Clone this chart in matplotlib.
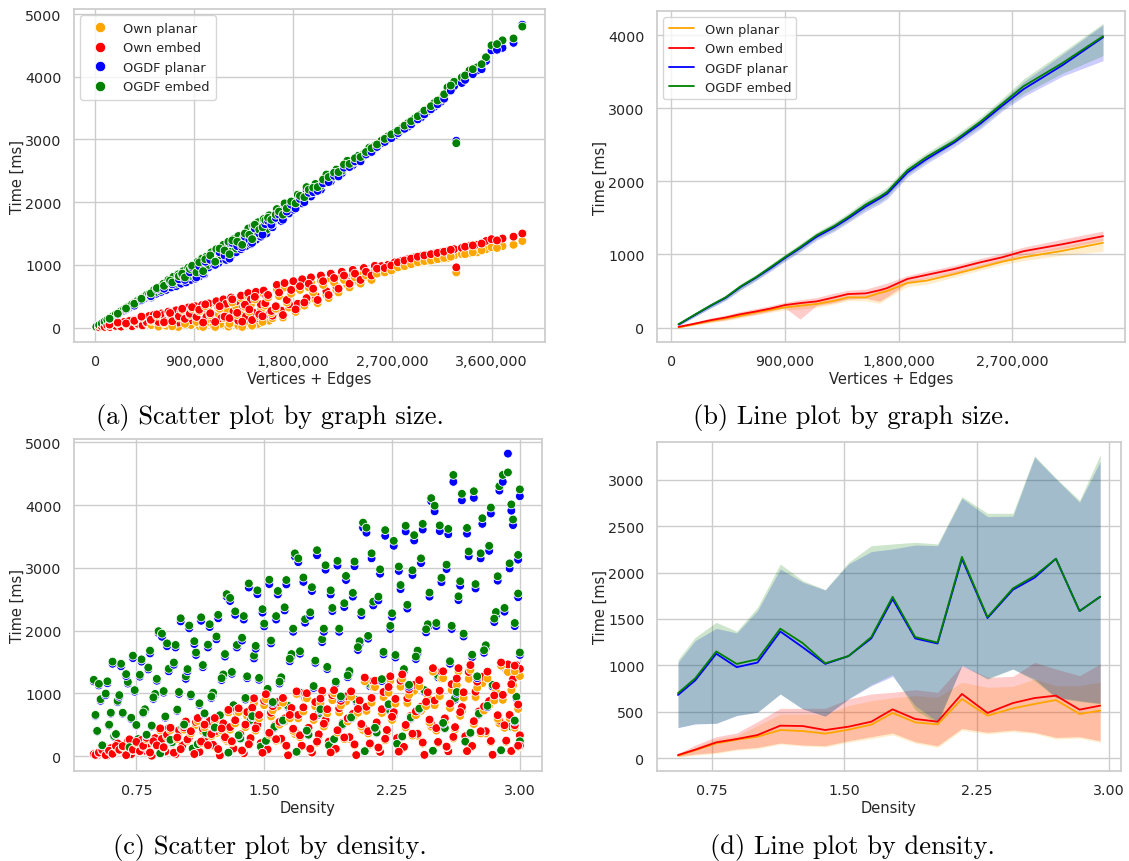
import matplotlib
matplotlib.use("Agg")
import matplotlib.pyplot as plt
from matplotlib.lines import Line2D
from matplotlib.ticker import FuncFormatter, MultipleLocator
import seaborn as sns

sns.set_theme(style="whitegrid")
plt.rcParams["font.family"] = ["DejaVu Sans"]
plt.rcParams["font.size"] = 10

names = ["Own planar", "Own embed", "OGDF planar", "OGDF embed"]
colors = ["orange", "red", "blue", "green"]

# ---- scatter by graph size (sizes in thousands, times in ms)
size_a_k = [10, 35, 60, 85, 110, 135, 160, 185, 210, 235, 260, 285, 310, 335, 360, 385, 410, 430, 450, 470,
            490, 510, 530, 555, 575, 600, 620, 645, 665, 690, 710, 735, 755, 780, 800, 825, 845, 870, 890, 910,
            930, 950, 970, 990, 1010,
            1030, 1055, 1075, 1100, 1120, 1145, 1165, 1190, 1210, 1235, 1255, 1280, 1300, 1325, 1345, 1370, 1390,
            1415, 1435, 1460, 1480, 1505, 1530, 1555, 1580,
            1610, 1650, 1690, 1720, 1760, 1800, 1840, 1880, 1920, 1960, 2000, 2050, 2100, 2140, 2190, 2240, 2290,
            2340, 2390, 2440, 2490, 2540,
            2600, 2660, 2720, 2780, 2840, 2900, 2960, 3020, 3080, 3140, 3200, 3260, 3280, 3330, 3400, 3470, 3550,
            3600, 3700, 3800, 3880,
            130, 205, 280, 355, 420, 505, 560, 625, 680, 700, 760, 790, 815, 860, 880, 920, 945, 980, 1000, 1045,
            1090, 1130, 1175, 1220, 1245, 1290, 1335, 1360, 1400, 1425, 1450, 1490, 1520, 1545, 1570, 1600, 1640,
            1670, 1705, 1740, 1780, 1820, 1860, 1900, 1940, 1980, 2020, 2070, 2120, 2170, 2210, 2260, 2310, 2360,
            2410, 2460, 2510, 2560, 2630, 2690, 2750, 2810, 2870, 2930, 2990, 3050, 3110, 3170, 3230, 3360, 3430,
            3510, 3650]
own_planar_a = [1, 4, 15, 8, 30, 5, 45, 20, 60, 10, 75, 35, 90, 15, 110, 50, 120, 25, 140, 70,
                170, 40, 180, 90, 15, 200, 120, 30, 230, 150, 60, 250, 10, 180, 270, 100, 290, 40, 220, 310,
                140, 20, 330, 250, 80,
                350, 120, 30, 380, 220, 60, 410, 290, 15, 440, 160, 330, 30, 470, 230, 90, 500, 370, 140, 520,
                60, 280, 540, 420, 110,
                150, 610, 230, 640, 320, 665, 330, 695, 420, 720, 450, 750, 520, 780, 600, 810, 680, 840, 730,
                870, 800, 900,
                890, 930, 940, 980, 1000, 1030, 1050, 1060, 1080, 1100, 1110, 1150, 880, 1170, 1190, 1200, 1250,
                1280, 1300, 1320, 1380,
                40, 70, 55, 95, 160, 110, 190, 70, 210, 20, 160, 280, 60, 200, 300, 90, 260, 10, 340, 200,
                10, 300, 150, 60, 400, 200, 10, 330, 250, 30, 450, 180, 90, 350, 480, 230, 300,
                500, 160, 400, 540, 250, 600, 350, 640, 560, 390, 680, 470, 720, 560, 760, 640, 800,
                700, 830, 760, 860, 880, 910, 960, 980, 1010, 1040, 1060, 1070, 1090, 1110, 1130, 1170, 1200,
                1230, 1270]
own_embed_a = [2, 6, 18, 12, 35, 10, 52, 28, 70, 16, 88, 45, 105, 22, 125, 62, 138, 35, 160, 85,
               185, 110, 200, 170, 90, 225, 200, 110, 255, 230, 140, 275, 80, 260, 295, 190, 320, 120, 300, 340,
               230, 100, 360, 320, 170,
               385, 210, 120, 420, 310, 150, 450, 380, 100, 480, 260, 420, 110, 510, 330, 180, 550, 450, 240, 570,
               150, 370, 590, 500, 210,
               190, 680, 270, 710, 370, 740, 380, 770, 470, 800, 510, 830, 580, 860, 660, 890, 740, 920, 790,
               950, 860, 985,
               980, 1000, 1040, 1060, 1090, 1120, 1140, 1160, 1180, 1200, 1220, 1250, 960, 1270, 1300, 1320, 1380,
               1410, 1420, 1450, 1500,
               48, 80, 66, 108, 175, 125, 210, 85, 232, 100, 180, 300, 140, 222, 325, 170, 285, 80, 370, 228,
               90, 340, 175, 150, 450, 235, 95, 365, 290, 120, 490, 210, 180, 390, 520, 265, 340,
               560, 200, 440, 600, 290, 660, 400, 700, 620, 440, 740, 520, 790, 620, 830, 700, 860,
               760, 890, 830, 940, 950, 990, 1040, 1070, 1100, 1130, 1150, 1170, 1190, 1210, 1240, 1290, 1310,
               1340, 1390]
ogdf_planar_a = [10, 38, 62, 92, 115, 148, 170, 200, 215, 255, 270, 310, 320, 365, 375, 420, 430, 470, 470, 515,
                 520, 480, 575, 540, 620, 570, 680, 600, 740, 640, 790, 660, 830, 700, 880, 720, 930, 760, 980, 780,
                 1030, 820, 1080, 850, 1110,
                 960, 1180, 1000, 1230, 1030, 1100, 1300, 1080, 1350, 1150, 1390, 1200, 1440, 1250, 1380, 1300,
                 1560, 1330, 1600, 1400, 1650, 1450, 1700, 1500, 1760,
                 1600, 1850, 1700, 1950, 1820, 1880, 2080, 1980, 2200, 2090, 2250, 2200, 2400, 2330, 2480, 2460,
                 2620, 2590, 2700, 2740, 2830, 2860,
                 2940, 3000, 3060, 3150, 3200, 3300, 3350, 3450, 3520, 3600, 3760, 3850, 2980, 3900, 4060, 4100,
                 4250, 4420, 4460, 4540, 4830,
                 135, 210, 290, 350, 440, 500, 610, 620, 730, 690, 770, 840, 760, 880, 960, 800, 980, 860, 1050, 1080,
                 1000, 1200, 1150, 1100, 1350, 1300, 1280, 1450, 1400, 1350, 1580, 1500, 1480, 1650, 1700, 1640, 1750,
                 1800, 1720, 1850, 1960, 1900, 2050, 2000, 2150, 2160, 2180, 2300, 2320, 2420, 2410, 2550, 2560, 2650,
                 2650, 2760, 2800, 2880, 2960, 3020, 3100, 3170, 3240, 3320, 3400, 3480, 3560, 3650, 3780, 3950, 4040,
                 4120, 4430]
ogdf_embed_a = [12, 40, 66, 96, 122, 152, 180, 205, 228, 262, 285, 318, 340, 372, 395, 428, 452, 480, 495, 525,
                535, 500, 590, 570, 640, 600, 700, 640, 760, 690, 810, 700, 850, 760, 900, 780, 955, 820, 1000, 840,
                1050, 880, 1100, 910, 1130,
                1000, 1200, 1050, 1250, 1080, 1150, 1320, 1140, 1370, 1210, 1410, 1260, 1460, 1310, 1420, 1360,
                1580, 1390, 1625, 1450, 1680, 1500, 1730, 1560, 1790,
                1650, 1890, 1760, 1980, 1880, 1940, 2120, 2040, 2240, 2150, 2290, 2260, 2440, 2380, 2520, 2500,
                2660, 2630, 2740, 2770, 2870, 2900,
                2980, 3050, 3110, 3170, 3260, 3330, 3400, 3480, 3580, 3640, 3830, 3920, 2940, 3990, 4100, 4150,
                4310, 4500, 4580, 4610, 4800,
                142, 222, 305, 380, 460, 545, 630, 665, 750, 720, 820, 860, 800, 935, 985, 880, 1040, 900, 1090, 1150,
                1050, 1260, 1230, 1170, 1390, 1370, 1320, 1500, 1480, 1410, 1640, 1560, 1600, 1710, 1750, 1720, 1800,
                1850, 1800, 1900, 2010, 1980, 2100, 2080, 2200, 2230, 2240, 2360, 2400, 2470, 2480, 2600, 2610, 2700,
                2720, 2800, 2860, 2920, 3010, 3080, 3140, 3220, 3290, 3370, 3460, 3530, 3620, 3720, 3860, 4020, 4120,
                4200, 4520]

# ---- mean lines by graph size with confidence bands
size_b = [58000, 190000, 310000, 430000, 550000, 670000, 790000, 900000, 1020000, 1150000, 1290000, 1400000,
          1540000, 1650000, 1710000, 1870000, 2020000, 2240000, 2450000, 2620000, 2790000, 3100000, 3420000]
own_planar_b = [0, 48, 90, 124, 160, 206, 243, 275, 298, 321, 366, 412, 412, 472, 500, 609, 641, 730, 824, 900, 962, 1050, 1159]
own_planar_b_lo = [0, 32, 65, 95, 130, 175, 210, 240, 250, 275, 320, 370, 365, 330, 400, 560, 590, 690, 785, 860, 915, 990, 1040]
own_planar_b_hi = [5, 62, 110, 150, 190, 235, 275, 305, 330, 360, 400, 445, 450, 510, 540, 650, 680, 770, 860, 940, 1010, 1110, 1225]
own_embed_b = [9, 55, 100, 137, 183, 220, 261, 307, 334, 357, 412, 458, 467, 510, 540, 664, 719, 800, 893, 960, 1044, 1140, 1250]
own_embed_b_lo = [3, 40, 75, 105, 150, 180, 225, 270, 115, 300, 340, 390, 400, 360, 420, 610, 670, 750, 845, 910, 995, 1080, 1190]
own_embed_b_hi = [15, 75, 130, 170, 220, 260, 300, 345, 380, 410, 470, 510, 525, 580, 610, 710, 770, 850, 945, 1015, 1100, 1210, 1320]
ogdf_planar_b = [40, 175, 295, 405, 555, 680, 815, 950, 1085, 1240, 1370, 1490, 1655, 1765, 1830, 2120, 2300, 2530, 2790, 3030, 3260, 3590, 3970]
ogdf_planar_b_lo = [22, 150, 262, 370, 515, 640, 775, 905, 1035, 1195, 1315, 1435, 1590, 1690, 1760, 2060, 2240, 2470, 2720, 2960, 3160, 3440, 3650]
ogdf_planar_b_hi = [60, 200, 325, 435, 590, 715, 855, 990, 1130, 1285, 1420, 1540, 1715, 1820, 1890, 2180, 2360, 2590, 2850, 3100, 3360, 3740, 4140]
ogdf_embed_b = [46, 180, 300, 412, 563, 687, 830, 962, 1099, 1260, 1388, 1511, 1681, 1786, 1855, 2150, 2330, 2550, 2817, 3060, 3300, 3620, 3985]
ogdf_embed_b_lo = [30, 155, 270, 380, 525, 650, 790, 920, 1055, 1215, 1335, 1455, 1620, 1720, 1790, 2090, 2270, 2510, 2750, 2990, 3200, 3480, 3720]
ogdf_embed_b_hi = [65, 205, 330, 445, 600, 725, 870, 1005, 1145, 1305, 1440, 1565, 1745, 1850, 1920, 2210, 2390, 2620, 2880, 3130, 3400, 3770, 4160]

# ---- scatter by density
density_c = [0.50, 0.52, 0.54, 0.56, 0.58, 0.60, 0.62, 0.64, 0.66, 0.68, 0.70, 0.72, 0.74, 0.76, 0.78, 0.80,
             0.82, 0.84, 0.86, 0.88, 0.90, 0.92, 0.94, 0.96, 0.98, 1.00, 1.02, 1.04, 1.06, 1.08, 1.10, 1.12,
             1.14, 1.16, 1.18, 1.20, 1.22, 1.24, 1.26, 1.28, 1.30, 1.32, 1.34, 1.36, 1.38, 1.40, 1.42, 1.44,
             1.46, 1.48, 1.50, 1.52, 1.54, 1.56, 1.58, 1.60, 1.62, 1.64, 1.66, 1.68, 1.70, 1.72, 1.74, 1.76,
             1.78, 1.80, 1.82, 1.84, 1.86, 1.88, 1.90, 1.92, 1.94, 1.96, 1.98, 2.00, 2.02, 2.04, 2.06, 2.08,
             2.10, 2.12, 2.14, 2.16, 2.18, 2.20, 2.22, 2.24, 2.26, 2.28, 2.30, 2.32, 2.34, 2.36, 2.38, 2.40,
             2.42, 2.44, 2.46, 2.48, 2.50, 2.52, 2.54, 2.56, 2.58, 2.60, 2.62, 2.64, 2.66, 2.68, 2.70, 2.72,
             2.74, 2.76, 2.78, 2.80, 2.82, 2.84, 2.86, 2.88, 2.90, 2.92, 2.93, 2.94, 2.95, 2.96, 2.97, 2.98,
             2.99, 3.00, 3.00, 3.00,
             0.51, 0.53, 0.55, 0.57, 0.59, 0.61, 0.63, 0.65, 0.67, 0.69, 0.71, 0.73, 0.75, 0.77, 0.79, 0.81,
             0.83, 0.85, 0.87, 0.89, 0.91, 0.93, 0.95, 0.97, 0.99, 1.01, 1.03, 1.05, 1.07, 1.09, 1.11, 1.13,
             1.15, 1.17, 1.19, 1.21, 1.23, 1.25, 1.27, 1.29, 1.31, 1.33, 1.35, 1.37, 1.39, 1.41, 1.43, 1.45,
             1.47, 1.49, 1.51, 1.53, 1.55, 1.57, 1.59, 1.61, 1.63, 1.65, 1.67, 1.69, 1.71, 1.73, 1.75, 1.77,
             1.79, 1.81, 1.83, 1.85, 1.87, 1.89, 1.91, 1.93, 1.95, 1.97, 1.99, 2.01, 2.03, 2.05, 2.07, 2.09,
             2.11, 2.13, 2.15, 2.17, 2.19, 2.21, 2.23, 2.25, 2.27, 2.29, 2.31, 2.33, 2.35, 2.37, 2.39, 2.41,
             2.43, 2.45, 2.47, 2.49, 2.51, 2.53, 2.55, 2.57, 2.59, 2.61, 2.63, 2.65, 2.67, 2.69, 2.71, 2.73,
             2.75, 2.77, 2.79, 2.81, 2.83, 2.85, 2.87, 2.89, 2.91, 2.95, 2.97, 2.99]
own_planar_c = [24, 9, 75, 40, 5, 110, 50, 180, 105, 45, 210, 26, 175, 125, 230, 75, 180, 3, 260, 140,
                250, 65, 405, 190, 25, 375, 155, 505, 270, 115, 495, 60, 395, 280, 510, 160, 365, 8, 475, 240,
                420, 110, 685, 315, 40, 640, 260, 845, 455, 185, 810, 95, 630, 440, 790, 250, 550, 10, 700, 350,
                600, 150, 920, 410, 50, 790, 315, 1000, 525, 210, 890, 105, 695, 485, 870, 275, 615, 12, 810, 415,
                720, 180, 1100, 490, 60, 940, 380, 1200, 640, 260, 1105, 130, 845, 585, 1040, 325, 720, 15, 930, 470,
                810, 205, 1235, 550, 70, 1050, 425, 1350, 715, 290, 1230, 145, 940, 650, 1160, 360, 800, 18, 1030, 520,
                895, 225, 1340, 600, 75, 1125, 450, 1400, 750, 300, 1275, 150,
                15, 49, 85, 12, 77, 32, 145, 90, 143, 12, 240, 93, 205, 71, 148, 265, 50, 215, 155, 408,
                128, 310, 415, 48, 270, 100, 420, 243, 360, 29, 558, 210, 460, 157, 320, 555, 100, 405, 275, 695,
                215, 520, 700, 80, 460, 172, 705, 405, 600, 47, 905, 340, 730, 245, 500, 850, 150, 600, 400, 990,
                300, 710, 920, 105, 575, 210, 840, 470, 680, 52, 1000, 375, 805, 270, 550, 945, 170, 690, 470, 1190,
                360, 850, 1100, 125, 685, 250, 1010, 575, 835, 65, 1235, 455, 975, 325, 650, 1110, 197, 795, 535, 1345,
                405, 955, 1240, 140, 765, 280, 1130, 640, 930, 72, 1375, 510, 1090, 360, 725, 1235, 220, 885, 595, 1440,
                450, 1050, 1350, 150]
own_embed_c = [30, 12, 85, 48, 8, 125, 58, 200, 118, 52, 232, 30, 195, 140, 255, 85, 200, 5, 285, 155,
               275, 72, 445, 210, 30, 410, 170, 550, 300, 125, 540, 65, 435, 310, 560, 178, 400, 10, 520, 265,
               460, 120, 740, 345, 45, 700, 285, 920, 500, 205, 880, 105, 690, 485, 860, 275, 600, 12, 765, 385,
               655, 165, 1000, 450, 55, 860, 345, 1040, 575, 230, 970, 115, 760, 530, 950, 300, 670, 15, 885, 455,
               785, 200, 1195, 535, 65, 1020, 415, 1270, 700, 285, 1200, 145, 920, 640, 1135, 355, 785, 18, 1015, 510,
               885, 225, 1345, 600, 75, 1145, 460, 1400, 780, 315, 1340, 160, 1025, 710, 1265, 395, 875, 20, 1120, 565,
               975, 245, 1460, 655, 80, 1225, 490, 1450, 820, 330, 1390, 165,
               18, 55, 95, 14, 85, 36, 160, 100, 158, 14, 265, 102, 225, 78, 162, 290, 56, 235, 170, 440,
               140, 340, 450, 53, 295, 110, 455, 265, 395, 32, 605, 230, 500, 172, 350, 605, 110, 440, 300, 735,
               235, 570, 760, 88, 500, 188, 770, 440, 655, 52, 985, 370, 795, 268, 545, 925, 165, 655, 435, 1030,
               330, 775, 1000, 115, 625, 230, 915, 515, 745, 57, 1050, 410, 880, 295, 600, 1030, 185, 750, 510, 1250,
               395, 925, 1200, 135, 745, 275, 1100, 625, 910, 70, 1300, 495, 1060, 355, 710, 1210, 215, 865, 580, 1400,
               445, 1040, 1350, 150, 835, 305, 1235, 700, 1015, 78, 1450, 555, 1185, 395, 790, 1345, 240, 965, 650, 1490,
               490, 1145, 1440, 165]
ogdf_planar_c = [1190, 390, 880, 140, 1160, 675, 305, 860, 1430, 80, 1155, 590, 1025, 260, 1505, 720, 1380, 470, 960, 1960,
                 1900, 610, 1350, 210, 1730, 990, 445, 1230, 2035, 115, 1610, 815, 1415, 360, 2055, 980, 1860, 630, 1270, 2540,
                 2470, 790, 1730, 270, 2175, 1240, 560, 1555, 2580, 145, 2065, 1040, 1795, 450, 2575, 1220, 2320, 780, 1585, 3180,
                 3090, 980, 2125, 330, 2630, 1485, 660, 1815, 2970, 165, 2310, 1155, 1980, 495, 2805, 1320, 2540, 870, 1785, 3640,
                 3560, 1115, 2400, 365, 2905, 1620, 730, 2025, 3350, 190, 2660, 1350, 2350, 600, 3435, 1640, 3075, 1025, 2050, 4060,
                 3900, 1255, 2770, 435, 3535, 2025, 900, 2485, 4075, 225, 3185, 1575, 2670, 660, 3700, 1720, 3270, 1105, 2240, 4230,
                 4370, 1380, 4820, 2990, 460, 3680, 2070, 920, 2530, 4140, 230, 1610,
                 640, 1125, 165, 970, 485, 1470, 340, 945, 675, 1275, 135, 1560, 485, 1265, 680, 330, 1635, 910, 1200, 40,
                 1010, 1750, 250, 1455, 720, 2145, 490, 1350, 955, 1785, 185, 2155, 665, 1730, 925, 445, 2195, 1210, 1585, 52,
                 1310, 2250, 320, 1840, 900, 2685, 620, 1710, 1215, 2285, 235, 2740, 840, 2175, 1155, 555, 2735, 1510, 1980, 65,
                 1630, 2775, 395, 2235, 1085, 3200, 725, 1980, 1385, 2575, 265, 3035, 925, 2375, 1255, 600, 3025, 1690, 2240, 75,
                 1870, 3150, 440, 2480, 1195, 3510, 805, 2220, 1570, 2950, 305, 3580, 1105, 2885, 1545, 740, 3610, 1970, 2540, 82,
                 2070, 3585, 515, 2980, 1470, 4370, 995, 2715, 1905, 3545, 360, 4115, 1240, 3150, 1645, 780, 3865, 2135, 2795, 90,
                 2300, 3910, 550, 3130]
ogdf_embed_c = [1215, 400, 905, 150, 1190, 690, 320, 880, 1470, 85, 1180, 610, 1050, 270, 1540, 745, 1410, 485, 990, 1990,
                1950, 630, 1390, 220, 1770, 1020, 455, 1270, 2080, 120, 1650, 840, 1450, 370, 2100, 1010, 1905, 650, 1300, 2580,
                2520, 810, 1770, 280, 2230, 1270, 575, 1600, 2640, 150, 2110, 1070, 1840, 465, 2630, 1255, 2370, 800, 1625, 3230,
                3150, 1005, 2180, 340, 2690, 1520, 680, 1860, 3040, 170, 2360, 1185, 2030, 510, 2870, 1355, 2600, 895, 1830, 3720,
                3640, 1145, 2460, 375, 2975, 1660, 750, 2075, 3430, 195, 2725, 1385, 2410, 615, 3520, 1680, 3150, 1050, 2100, 4110,
                3990, 1285, 2840, 445, 3620, 2075, 925, 2545, 4180, 230, 3260, 1615, 2740, 675, 3790, 1765, 3350, 1135, 2295, 4300,
                4480, 1415, 4520, 3070, 470, 3770, 2120, 945, 2590, 4250, 235, 1650,
                655, 1150, 170, 995, 500, 1505, 350, 970, 690, 1305, 140, 1600, 495, 1295, 695, 340, 1680, 935, 1230, 42,
                1035, 1795, 258, 1490, 740, 2195, 502, 1385, 980, 1830, 190, 2210, 680, 1775, 950, 455, 2250, 1240, 1625, 54,
                1340, 2305, 330, 1885, 925, 2750, 635, 1755, 1245, 2340, 242, 2810, 860, 2230, 1185, 568, 2805, 1550, 2030, 67,
                1670, 2845, 405, 2290, 1115, 3280, 745, 2030, 1420, 2640, 270, 3110, 950, 2435, 1285, 615, 3100, 1735, 2295, 77,
                1915, 3230, 450, 2540, 1225, 3600, 825, 2275, 1610, 3020, 312, 3670, 1135, 2960, 1585, 755, 3700, 2020, 2605, 84,
                2120, 3675, 528, 3050, 1510, 4480, 1020, 2785, 1950, 3635, 370, 4220, 1270, 3230, 1685, 800, 3960, 2190, 2865, 92,
                2360, 4010, 565, 3205]

# ---- mean lines by density with confidence bands
density_d = [0.557, 0.655, 0.774, 0.89, 1.008, 1.137, 1.264, 1.392, 1.524, 1.653,
             1.774, 1.902, 2.029, 2.167, 2.312, 2.456, 2.579, 2.70, 2.834, 2.951]
own_planar_d = [25, 85, 158, 198, 230, 302, 291, 263, 306, 360, 486, 385, 363, 637, 457, 536, 583, 626, 475, 511]
own_planar_d_lo = [10, 30, 50, 85, 100, 150, 130, 120, 170, 210, 250, 160, 115, 300, 260, 285, 265, 205, 215, 170]
own_planar_d_hi = [43, 115, 205, 241, 349, 475, 475, 475, 565, 619, 651, 673, 655, 817, 763, 773, 852, 780, 780, 817]
own_embed_d = [32, 90, 169, 205, 248, 349, 345, 302, 338, 392, 525, 421, 392, 691, 486, 593, 647, 673, 522, 565]
own_embed_d_lo = [18, 43, 61, 97, 115, 162, 140, 133, 187, 230, 270, 176, 133, 320, 277, 302, 277, 223, 230, 187]
own_embed_d_hi = [50, 140, 230, 270, 392, 536, 536, 536, 637, 691, 709, 737, 709, 1000, 870, 881, 1032, 960, 888, 1014]
ogdf_planar_d = [680, 838, 1125, 980, 1030, 1365, 1195, 1015, 1100, 1290, 1715, 1290, 1235, 2150, 1510, 1815, 1945, 2150, 1585, 1740]
ogdf_planar_d_lo = [327, 367, 374, 457, 493, 691, 529, 450, 637, 780, 880, 565, 392, 996, 860, 960, 852, 655, 619, 590]
ogdf_planar_d_hi = [1032, 1266, 1399, 1349, 1590, 2040, 1896, 1813, 2093, 2227, 2255, 2298, 2291, 2802, 2604, 2608, 3245, 3011, 2759, 3198]
ogdf_embed_d = [700, 860, 1150, 1015, 1065, 1395, 1240, 1022, 1100, 1305, 1740, 1305, 1245, 2170, 1520, 1830, 1965, 2150, 1585, 1740]
ogdf_embed_d_lo = [330, 370, 375, 460, 495, 690, 530, 455, 640, 790, 900, 520, 370, 1005, 850, 960, 835, 650, 610, 585]
ogdf_embed_d_hi = [1061, 1302, 1464, 1367, 1626, 2093, 1914, 1816, 2111, 2291, 2309, 2327, 2310, 2820, 2640, 2640, 3260, 3020, 2780, 3270]

W, H = 1129, 862
fig = plt.figure(figsize=(W / 100, H / 100), dpi=100)


def px_axes(left, top, right, bottom):
    return fig.add_axes([left / W, 1 - bottom / H, (right - left) / W, (bottom - top) / H])


ax_a = px_axes(74, 10, 545, 343)
ax_b = px_axes(657, 12, 1125, 343)
ax_c = px_axes(74, 440, 542, 772)
ax_d = px_axes(657, 443, 1121, 772)

thousands = FuncFormatter(lambda v, p: f"{v:,.0f}")
twodec = FuncFormatter(lambda v, p: f"{v:.2f}")


def scatter_panel(ax, x, series):
    # one collection, rows interleaved graph by graph (like a long-form hue scatter)
    xs, ys, cs = [], [], []
    for i in range(len(x)):
        for s, c in zip(series, colors):
            xs.append(x[i])
            ys.append(s[i])
            cs.append(c)
    ax.scatter(xs, ys, s=40, c=cs, edgecolor="white", linewidth=0.6, zorder=2)


def line_panel(ax, x, series):
    for (m, lo, hi), c, n in zip(series, colors, names):
        ax.plot(x, m, color=c, lw=1.3, label=n, zorder=3)
        ax.fill_between(x, lo, hi, color=c, alpha=0.2, linewidth=0, zorder=2)


size_a = [s * 1000 for s in size_a_k]
scatter_panel(ax_a, size_a, [own_planar_a, own_embed_a, ogdf_planar_a, ogdf_embed_a])
ax_a.set_xlim(-193000, 4086000)
ax_a.set_ylim(-230, 5080)
ax_a.xaxis.set_major_locator(MultipleLocator(900000))
ax_a.xaxis.set_major_formatter(thousands)
ax_a.yaxis.set_major_locator(MultipleLocator(1000))
ax_a.set_xlabel("Vertices + Edges")
ax_a.set_ylabel("Time [ms]")
dots = [Line2D([], [], marker="o", linestyle="", markersize=7.5, markerfacecolor=c,
               markeredgecolor="white", markeredgewidth=0.6, label=n) for c, n in zip(colors, names)]
ax_a.legend(handles=dots, loc="upper left", fontsize=9.3, handletextpad=0.8, borderpad=0.5)

line_panel(ax_b, size_b, [(own_planar_b, own_planar_b_lo, own_planar_b_hi),
                          (own_embed_b, own_embed_b_lo, own_embed_b_hi),
                          (ogdf_planar_b, ogdf_planar_b_lo, ogdf_planar_b_hi),
                          (ogdf_embed_b, ogdf_embed_b_lo, ogdf_embed_b_hi)])
ax_b.set_xlim(-113000, 3594000)
ax_b.set_ylim(-198, 4330)
ax_b.xaxis.set_major_locator(MultipleLocator(900000))
ax_b.xaxis.set_major_formatter(thousands)
ax_b.yaxis.set_major_locator(MultipleLocator(1000))
ax_b.set_xlabel("Vertices + Edges")
ax_b.set_ylabel("Time [ms]")
ax_b.legend(loc="upper left", fontsize=9.3)

scatter_panel(ax_c, density_c, [own_planar_c, own_embed_c, ogdf_planar_c, ogdf_embed_c])
ax_c.set_xlim(0.384, 3.13)
ax_c.set_ylim(-239, 5053)
ax_c.xaxis.set_major_locator(MultipleLocator(0.75))
ax_c.xaxis.set_major_formatter(twodec)
ax_c.yaxis.set_major_locator(MultipleLocator(1000))
ax_c.set_xlabel("Density")
ax_c.set_ylabel("Time [ms]")

line_panel(ax_d, density_d, [(own_planar_d, own_planar_d_lo, own_planar_d_hi),
                             (own_embed_d, own_embed_d_lo, own_embed_d_hi),
                             (ogdf_planar_d, ogdf_planar_d_lo, ogdf_planar_d_hi),
                             (ogdf_embed_d, ogdf_embed_d_lo, ogdf_embed_d_hi)])
ax_d.set_xlim(0.438, 3.069)
ax_d.set_ylim(-140, 3409)
ax_d.xaxis.set_major_locator(MultipleLocator(0.75))
ax_d.xaxis.set_major_formatter(twodec)
ax_d.yaxis.set_major_locator(MultipleLocator(500))
ax_d.set_xlabel("Density")
ax_d.set_ylabel("Time [ms]")

for ax in (ax_a, ax_b, ax_c, ax_d):
    ax.tick_params(labelsize=10.3, pad=3)
    ax.xaxis.label.set_size(10.5)
    ax.yaxis.label.set_size(10.5)
    ax.xaxis.labelpad = 2
    ax.yaxis.labelpad = 0

captions = [(270, 418, "(a) Scatter plot by graph size."),
            (852, 418, "(b) Line plot by graph size."),
            (270, 848, "(c) Scatter plot by density."),
            (852, 848, "(d) Line plot by density.")]
for cx, cy, text in captions:
    fig.text(cx / W, 1 - cy / H, text, family="cmr10", fontsize=19, ha="center", va="center", color="black")

fig.savefig("out.png", dpi=100)
